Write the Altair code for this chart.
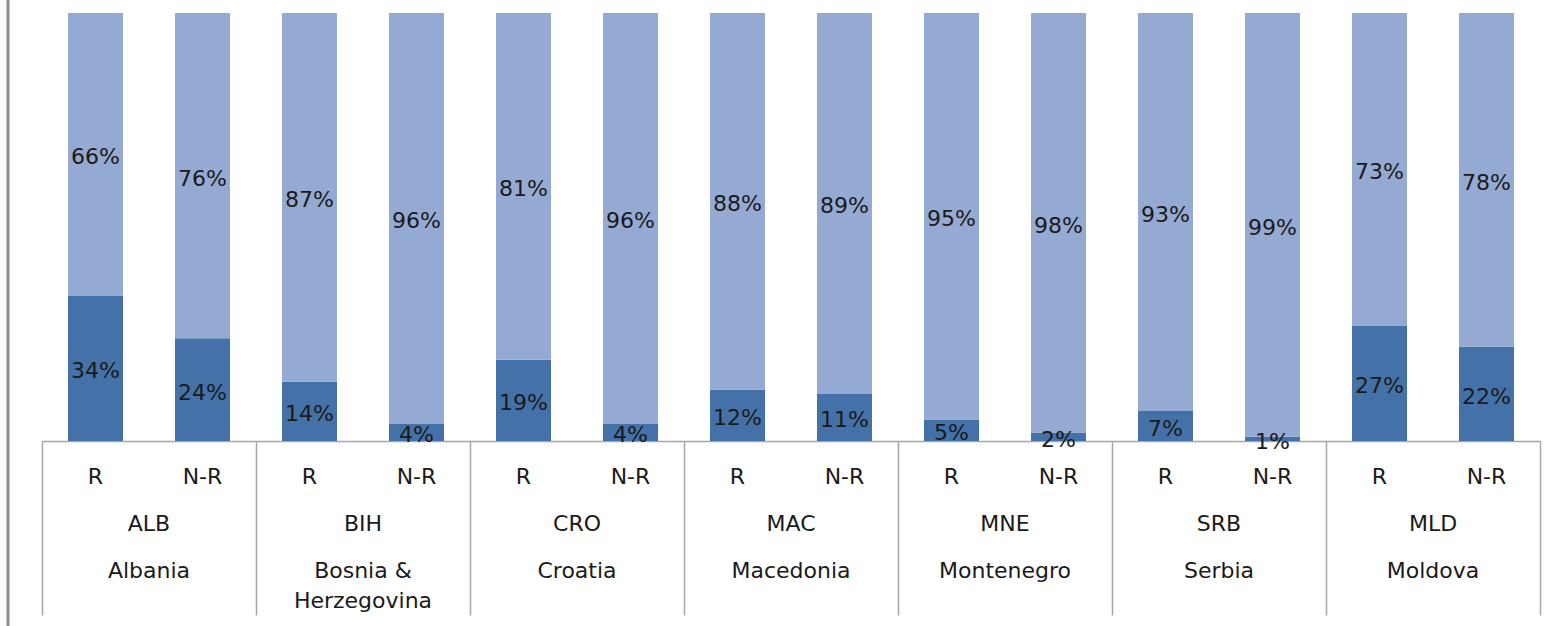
import altair as alt
import pandas as pd

codes = ["ALB", "BIH", "CRO", "MAC", "MNE", "SRB", "MLD"]
names = ["Albania", "Bosnia &\nHerzegovina", "Croatia", "Macedonia", "Montenegro", "Serbia", "Moldova"]
types = ["R", "N-R"]
# values per country: [R, N-R]
r_share = [[34, 24], [14, 4], [19, 4], [12, 11], [5, 2], [7, 1], [27, 22]]
nr_share = [[66, 76], [87, 96], [81, 96], [88, 89], [95, 98], [93, 99], [73, 78]]

DARK = "#4472A8"
LIGHT = "#95AAD2"
FONT = "DejaVu Sans"
FS = 22

rows = []
for i, c in enumerate(codes):
    for j, t in enumerate(types):
        a = r_share[i][j]
        b = nr_share[i][j]
        tot = a + b
        rows.append(dict(code=c, type=t, seg="dark", ord=0, value=a,
                         mid=(a / tot) / 2, label=f"{a}%"))
        rows.append(dict(code=c, type=t, seg="light", ord=1, value=b,
                         mid=a / tot + (b / tot) / 2, label=f"{b}%"))
df = pd.DataFrame(rows)
sub_df = pd.DataFrame([dict(code=c, type=t) for c in codes for t in types])
grp_df = pd.DataFrame(dict(code=codes, name=names))

x_enc = alt.X("code:N", sort=codes,
              scale=alt.Scale(paddingInner=0, paddingOuter=0),
              axis=alt.Axis(labels=False, title=None, domainColor="#A6A6A6", domainWidth=1.5,
                            tickColor="#A6A6A6", tickWidth=1.5, tickSize=174, tickBand="extent",
                            grid=False))
xo_enc = alt.XOffset("type:N", sort=types,
                     scale=alt.Scale(paddingInner=0.486, paddingOuter=0.243))

bars = alt.Chart(df).mark_bar().encode(
    x=x_enc,
    xOffset=xo_enc,
    y=alt.Y("value:Q", stack="normalize", scale=alt.Scale(domain=[0, 1]), axis=None),
    color=alt.Color("seg:N", scale=alt.Scale(domain=["dark", "light"], range=[DARK, LIGHT]), legend=None),
    order=alt.Order("ord:Q"),
)

vals = alt.Chart(df).mark_text(font=FONT, fontSize=FS, color="#1a1a1a", baseline="middle", dy=3).encode(
    x=alt.X("code:N", sort=codes),
    xOffset=alt.XOffset("type:N", sort=types),
    y=alt.Y("mid:Q", scale=alt.Scale(domain=[0, 1])),
    text="label:N",
)

subs = alt.Chart(sub_df).mark_text(font=FONT, fontSize=FS, color="#1a1a1a", baseline="middle").encode(
    x=alt.X("code:N", sort=codes),
    xOffset=alt.XOffset("type:N", sort=types),
    y=alt.value(464),
    text="type:N",
)

grp_codes = alt.Chart(grp_df).mark_text(font=FONT, fontSize=FS, color="#1a1a1a", baseline="middle").encode(
    x=alt.X("code:N", sort=codes),
    y=alt.value(511),
    text="code:N",
)

grp_names = alt.Chart(grp_df).mark_text(font=FONT, fontSize=FS, color="#1a1a1a", baseline="alphabetic",
                                        lineBreak="\n", lineHeight=30).encode(
    x=alt.X("code:N", sort=codes),
    y=alt.value(565),
    text="name:N",
)

left_line = alt.Chart(pd.DataFrame({"a": [0]})).mark_rule(color="#8C8C8C", strokeWidth=3).encode(
    x=alt.value(-34), y=alt.value(-13), y2=alt.value(613)
)

chart = alt.layer(bars, vals, subs, grp_codes, grp_names, left_line).properties(
    width=1498, height=428,
    autosize=alt.AutoSizeParams(type="none"),
    padding={"left": 42, "top": 13, "right": 18, "bottom": 185},
).configure_view(stroke=None)

chart.save("out.html", embed_options={"renderer": "svg", "actions": False})
